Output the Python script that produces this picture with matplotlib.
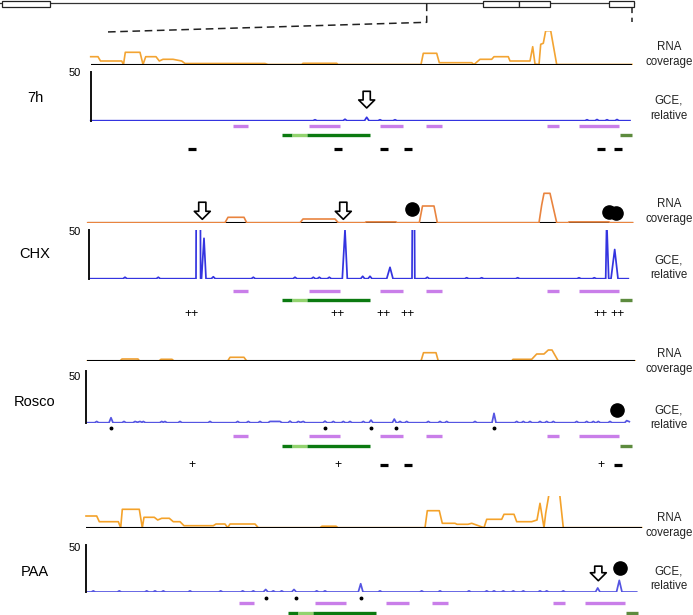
import matplotlib
matplotlib.use("Agg")
import matplotlib.pyplot as plt
from matplotlib.patches import Rectangle

W, H = 693, 615
plt.rcParams["font.family"] = ["Liberation Sans", "DejaVu Sans"]

# ---------------- gene overview (top) ----------------
exon_starts = [1.7, 483.3, 519, 609]
exon_ends = [50, 519, 550, 634]
gene_end = 634
zoom_left_x = [426.7, 426.7, 106]
zoom_left_y = [3.5, 22.3, 32]
zoom_right_x = [632, 632]
zoom_right_y = [7.3, 21.7]

# ---------------- shared feature tracks (zoomed region coords) ----------------
purple_starts = [142.5, 218.5, 289.5, 336, 456.5, 489]
purple_ends = [158, 249.5, 313, 352, 469, 528.5]
green_starts = [191.5, 201.5, 217, 530]
green_ends = [201.5, 217, 280, 542]
green_kinds = ["dark", "light", "dark", "olive"]
sign_pos = [101.5, 247.5, 294, 318, 510.5, 528]
signs_7h = ["-", "-", "-", "-", "-", "-"]
signs_chx = ["++", "++", "++", "++", "++", "++"]
signs_rosco = ["+", "+", "-", "-", "+", "-"]

# ---------------- RNA coverage ----------------
rna_7h = [(0.7, 7.8), (8, 7.8), (10.5, 3.5), (31.7, 3.5), (33.5, 0), (35.3, 12.2), (50, 12.2), (53, 0),
          (55.7, 7.8), (66, 7.8), (69.3, 3.5), (73, 5.2), (83, 5.2), (91.7, 3.5), (95, 1), (175, 1),
          (178, 0), (211.7, 0), (213, 1.2), (246.7, 1.2), (248, 0), (331, 0), (333.3, 11.2),
          (346.7, 11.2), (349.3, 1.8), (381.7, 1.8), (384, 0), (390, 5.2), (401.7, 5.2), (404, 7.8),
          (418.3, 7.8), (420, 3.5), (440, 3.5), (442.7, 17.8), (445, 0.5), (449, 0), (450.7, 20.2),
          (453.3, 21.2), (455.7, 33.8), (460.7, 33.8), (466.7, 0), (542, 0)]
rna_chx = [(-2.3, 0), (135, 0), (138, 5.4), (154, 5.4), (156.7, 0), (210, 0), (213, 3.7), (245, 3.7),
           (248.3, 0), (275, 0), (276, 0.8), (306, 0.8), (307, 0), (329.3, 0), (332.5, 16.7),
           (344, 16.7), (347.3, 0), (449, 0), (451.7, 17.7), (454, 29.4), (460, 29.4), (466.7, 0),
           (478, 0), (479, 0.8), (519, 0.8), (520, 0), (542.7, 0)]
rna_rosco = [(-2.7, 0), (30, 0), (32, 2), (48, 2), (49.5, 0), (69, 0), (71, 1.7), (82, 1.7), (84, 0),
             (137.7, 0), (140, 3.7), (154, 3.7), (156.7, 0), (331, 0), (333.5, 8.3), (346, 8.3),
             (348.3, 0), (421.7, 0), (423, 1.7), (441.7, 1.7), (446.7, 7), (454, 7), (458.3, 11),
             (462, 11), (468.3, 0), (545, 0)]
rna_paa = [(-10, 11.7), (0.7, 11.7), (3.3, 6), (22.3, 6), (24.7, 0), (26.3, 18.4), (43.3, 18.4),
           (46.3, 0), (48, 10.4), (58.3, 10.4), (61.7, 7.7), (65.7, 9.4), (73.3, 9.4), (77.3, 6),
           (84, 6), (88, 2), (117.3, 2), (120, 3.7), (129, 3.7), (131.7, 0), (134, 3.7), (159, 3.7),
           (162.3, 0), (224, 0), (226, 1.5), (240, 1.5), (242, 0), (329, 0), (331.3, 17), (343.3, 17),
           (346.3, 4.4), (359, 4.4), (361, 3.4), (372, 3.4), (375.7, 4.4), (388, 0), (390.7, 8.4),
           (405.7, 8.4), (408, 13.4), (418, 13.4), (420.7, 6), (435.7, 6), (441, 7.7), (444, 24.4),
           (448, 0), (449.7, 14.4), (452.3, 29.4), (454, 40), (463, 40), (467.3, 0), (545.7, 0)]

# ---------------- GCE, relative (0-50) ----------------
gce_7h = [(0.7, 0), (223, 0), (225, 1), (227, 0), (253, 0), (255, 1.5), (257, 0), (274.5, 0),
          (276.7, 3.5), (279, 0), (288, 0), (290, 1), (292, 0), (303, 0), (305, 1), (307, 0),
          (495, 0), (497, 1), (499, 0), (505, 0), (507, 1.2), (509, 0), (515, 0), (517, 1),
          (519, 0), (525, 0), (527, 1.2), (529, 0), (540, 0)]
gce_chx = [(-0.7, 0), (33, 0), (35, 1.5), (37, 0), (66.3, 0), (68.3, 1.5), (70.3, 0), (106, 0),
           (106.6, 200), (110, 200), (110.6, 0), (111.5, 0), (114, 41.5), (116, 0), (121.3, 0),
           (123.3, 2), (125.3, 0), (161.3, 0), (163.3, 1.5), (165.3, 0), (203, 0), (205, 1.5),
           (207, 0), (221.3, 0), (223.3, 1.5), (225.3, 0), (227.3, 0), (229.3, 1.5), (231.3, 0),
           (237.3, 0), (239.3, 1.5), (241.3, 0), (252.3, 0), (255, 50), (257.3, 0), (270.7, 0),
           (272.7, 2.5), (274.7, 0), (278, 0), (280, 2.5), (282, 0), (296.7, 0), (300, 11.7),
           (303, 0), (322, 0), (323, 200), (323.8, 200), (324.8, 0), (335.3, 0), (337.3, 1.5),
           (339.3, 0), (374.7, 0), (376.7, 1), (378.7, 0), (389.7, 0), (391.7, 1), (393.7, 0),
           (425.7, 0), (427.7, 1), (429.7, 0), (487, 0), (489, 1), (491, 0), (502.3, 0),
           (504.3, 1), (506.3, 0), (515.7, 0), (516.7, 60), (518.7, 0), (521, 0), (524.7, 30),
           (528, 0), (538.3, 0)]
gce_rosco = [(-4, 0), (4.7, 0), (6.7, 1.2), (8.7, 0), (19, 0), (21, 4.8), (23, 0), (32, 0), (34, 1.2),
             (36, 0), (43, 0), (45, 1.2), (47.5, 0.4), (50, 1.2), (52, 0.4), (53.3, 1.2), (55.5, 0),
             (69.7, 0), (71.7, 1.2), (73.3, 0.4), (75, 1.2), (77, 0), (88, 0), (90, 1.2), (92, 0),
             (118, 0), (120, 1.2), (122, 0), (145.7, 0), (147.7, 1.2), (149.7, 0), (156.3, 0),
             (158.3, 1.2), (160.3, 0), (168, 0), (170, 1.2), (172, 0), (178, 0), (180, 1.2),
             (190, 1.2), (192, 0), (198, 0), (200, 1.5), (202, 0), (206.3, 0), (208.3, 1.2),
             (210.5, 0.3), (213.3, 1.2), (215.3, 0), (233, 0), (235, 1.5), (237, 0), (241.3, 0),
             (243.3, 1.2), (245.3, 0), (251.3, 0), (253.3, 1.2), (255.3, 0), (258, 0), (260, 1.2),
             (262, 0), (271.3, 0), (273.3, 1.2), (275.3, 0), (279, 0), (281, 2.5), (283, 0),
             (302.3, 0), (304.3, 3.5), (306.3, 0), (308, 0), (310, 1.2), (312, 0), (314.7, 0),
             (316.7, 1.2), (318.7, 0), (336.3, 0), (338.3, 1.2), (340.3, 0), (348, 0), (350, 1.2),
             (352, 0), (354.7, 0), (356.7, 1.2), (358.7, 0), (383, 0), (385, 1.2), (387, 0),
             (402, 0), (404, 9), (406, 0), (424.7, 0), (426.7, 1.2), (428.7, 0), (431.3, 0),
             (433.3, 1.2), (435.3, 0), (438, 0), (440, 1.2), (442, 0), (448, 0), (450, 1.2),
             (452, 0), (454.7, 0), (456.7, 1.2), (458.7, 0), (461.3, 0), (463.3, 1.2), (465.3, 0),
             (484.7, 0), (486.7, 1.2), (488.7, 0), (494.7, 0), (496.7, 1.2), (498.7, 0),
             (501.3, 0), (503.3, 1.2), (505.3, 0), (506.3, 0), (508.3, 1.2), (510.3, 0), (518, 0),
             (520, 1.2), (522, 0), (534.7, 0), (536.7, 2), (539.3, 1)]
gce_paa = [(-10, 0), (-4.7, 0), (-2.7, 1.2), (-0.7, 0), (21.3, 0), (23.3, 1.2), (25.3, 0), (48.7, 0),
           (50.7, 1.2), (52.7, 0), (57, 0), (59, 1.2), (61, 0), (65.3, 0), (67.3, 1.2), (69.3, 0),
           (92, 0), (94, 1.2), (96, 0), (122.7, 0), (124.7, 1.2), (126.7, 0), (144.7, 0),
           (146.7, 1.2), (148.7, 0), (155.3, 0), (157.3, 1.2), (159.3, 0), (167.3, 0), (169.7, 2.7),
           (172, 0), (175.3, 0), (177.3, 1.2), (179.3, 0), (183.7, 0), (185.7, 1.2), (187.7, 0),
           (195.7, 0), (198, 2.7), (200.3, 0), (218.7, 0), (220.7, 1.2), (222.7, 0), (227, 0),
           (229, 1.2), (231, 0), (262.3, 0), (264.7, 8.8), (267, 0), (282, 0), (284, 1.2), (286, 0),
           (323.7, 0), (325.7, 1.2), (327.7, 0), (342, 0), (344, 1.2), (346, 0), (371, 0),
           (373, 1.2), (375, 0), (388.7, 0), (390.7, 1.2), (392.7, 0), (396, 0), (398, 1.2),
           (400, 0), (405.3, 0), (407.3, 1.2), (409.3, 0), (415.3, 0), (417.3, 1.2), (419.3, 0),
           (425.3, 0), (427.3, 1.2), (429.3, 0), (442, 0), (444, 1.2), (446, 0), (448.7, 0),
           (450.7, 1.2), (452.7, 0), (465.3, 0), (467.3, 1.2), (469.3, 0), (499.5, 0), (501.7, 4.3),
           (504, 0), (520.5, 0), (523.3, 12.4), (526, 0), (540.7, 0)]

# markers on GCE tracks: arrows (x, tip, tail), circles (x, y), dots (x)
arrows_7h = [(276.7, 13, 30)]
arrows_chx = [(112.3, 61, 78.5), (253.3, 61, 78.5)]
arrows_paa = [(502.3, 12, 27.5)]
circles_chx = [(322.3, 71.6), (519.3, 68.8), (526, 67.2)]
circles_rosco = [(527.3, 12.2)]
circles_paa = [(524, 25.2)]
dots_rosco = [21, 235, 281, 305.7, 404]
dots_paa = [169.7, 199.7, 265]

conditions = ["7h", "CHX", "Rosco", "PAA"]

# layout, in pixels from the top-left of the figure
layout = {
    "7h": dict(x0=90, rna=(30.5, 64.5), gce=(71.7, 120.7), dots=None, purple=125.7, green=135,
               signs=149, name_y=98, rna_lbl=54.2, gce_lbl=108.3, lbl50=72.7,
               orange="#f3a432", orange_top=False, blue="#3434e0"),
    "CHX": dict(x0=90, rna=(188.7, 222.7), gce=(230, 278.7), dots=None, purple=290.7, green=300,
                signs=314.3, name_y=254, rna_lbl=211.7, gce_lbl=267.5, lbl50=231.7,
                orange="#e9843f", orange_top=True, blue="#3434e0"),
    "Rosco": dict(x0=90, rna=(327, 361), gce=(370.7, 422.7), dots=428.3, purple=436, green=445.7,
                  signs=465, name_y=401.7, rna_lbl=361.8, gce_lbl=418, lbl50=376.7,
                  orange="#f0a030", orange_top=False, blue="#5555e2"),
    "PAA": dict(x0=96, rna=(495.7, 527.7), gce=(545, 592), dots=598.3, purple=603.3, green=613.3,
                signs=None, name_y=571.7, rna_lbl=525.5, gce_lbl=579, lbl50=548.3,
                orange="#f4a22a", orange_top=False, blue="#5555e2"),
}

data = {
    "7h": dict(rna=rna_7h, gce=gce_7h, signs=signs_7h, arrows=arrows_7h, circles=[], dots=[]),
    "CHX": dict(rna=rna_chx, gce=gce_chx, signs=signs_chx, arrows=arrows_chx, circles=circles_chx, dots=[]),
    "Rosco": dict(rna=rna_rosco, gce=gce_rosco, signs=signs_rosco, arrows=[], circles=circles_rosco,
                  dots=dots_rosco),
    "PAA": dict(rna=rna_paa, gce=gce_paa, signs=[], arrows=arrows_paa, circles=circles_paa, dots=dots_paa),
}

PURPLE = "#c97ee9"
GREENS = {"dark": "#0b7a10", "light": "#93d36f", "olive": "#5d8b3e"}
XMIN, XMAX = -14, 556

fig = plt.figure(figsize=(W / 100, H / 100), dpi=100)


def px_axes(left, top, width, height):
    ax = fig.add_axes([left / W, 1 - (top + height) / H, width / W, height / H])
    ax.patch.set_alpha(0)
    return ax


# gene overview
ax = px_axes(0, 0, W, 36)
ax.set_xlim(0, W)
ax.set_ylim(36, 0)
ax.axis("off")
ax.plot([0, gene_end], [3.4, 3.4], color="#333333", lw=0.9)
for s, e in zip(exon_starts, exon_ends):
    ax.add_patch(Rectangle((s, 0.6), e - s, 6, fc="white", ec="#222222", lw=0.9, zorder=3))
ax.plot(zoom_left_x, zoom_left_y, color="#222222", lw=1.1, ls=(0, (5, 3)))
ax.plot(zoom_right_x, zoom_right_y, color="#222222", lw=1.1, ls=(0, (4, 3)))

for cond in conditions:
    lay = layout[cond]
    d = data[cond]
    x0 = lay["x0"]
    width = XMAX - XMIN

    # RNA coverage
    top, bottom = lay["rna"]
    ax = px_axes(x0 + XMIN, top, width, bottom - top)
    ax.set_xlim(XMIN, XMAX)
    ax.set_ylim(0, bottom - top)
    ax.axis("off")
    rx = [p[0] for p in d["rna"]]
    ry = [p[1] for p in d["rna"]]
    ax.plot([rx[0], rx[-1]], [0, 0], color="black", lw=1.5, zorder=3 if not lay["orange_top"] else 1,
            solid_capstyle="butt")
    ax.plot(rx, ry, color=lay["orange"], lw=1.2, zorder=2)

    # GCE
    top, bottom = lay["gce"]
    ax = px_axes(x0 + XMIN, top, width, bottom - top)
    ax.set_xlim(XMIN, XMAX)
    ax.set_ylim(0, 50)
    gx = [p[0] for p in d["gce"]]
    gy = [p[1] for p in d["gce"]]
    ax.plot(gx, gy, color=lay["blue"], lw=1.25, zorder=2)
    for side in ["top", "right", "bottom"]:
        ax.spines[side].set_visible(False)
    ax.spines["left"].set_position(("data", gx[0]))
    ax.spines["left"].set_bounds(0, 50)
    ax.spines["left"].set_linewidth(1.4)
    ax.spines["left"].set_color("#111111")
    ax.set_xticks([])
    ax.set_yticks([])
    for x, tip, tail in d["arrows"]:
        ax.annotate("", xy=(x, tip), xytext=(x, tail), annotation_clip=False,
                    arrowprops=dict(arrowstyle="simple,head_length=0.5,head_width=1.0,tail_width=0.45",
                                    mutation_scale=11.5, fc="white", ec="black", lw=1.2,
                                    shrinkA=0, shrinkB=0))
    if d["circles"]:
        ax.plot([c[0] for c in d["circles"]], [c[1] for c in d["circles"]], "o", ms=9.5,
                color="black", clip_on=False, zorder=5)

    # feature rows below the GCE track
    ann_top = bottom
    ann_bottom = bottom + 50
    ax = px_axes(x0 + XMIN, ann_top, width, ann_bottom - ann_top)
    ax.set_xlim(XMIN, XMAX)
    ax.set_ylim(ann_bottom, ann_top)
    ax.axis("off")
    if d["dots"]:
        ax.plot(d["dots"], [lay["dots"]] * len(d["dots"]), "o", ms=1.8, color="black", clip_on=False)
    ax.hlines([lay["purple"]] * len(purple_starts), purple_starts, purple_ends, color=PURPLE, lw=2.4)
    for s, e, k in zip(green_starts, green_ends, green_kinds):
        ax.plot([s, e], [lay["green"], lay["green"]], color=GREENS[k], lw=2.4, solid_capstyle="butt",
                clip_on=False)
    for x, sg in zip(sign_pos, d["signs"]):
        if sg == "-":
            ax.plot([x], [lay["signs"]], marker="_", ms=6, mew=2.3, color="black")
        else:
            ax.text(x, lay["signs"], sg, ha="center", va="center", fontsize=8.8, color="black")

    # labels
    fig.text(35 / W, 1 - lay["name_y"] / H, cond, ha="center", va="center", fontsize=10.5)
    fig.text(80.5 / W, 1 - lay["lbl50"] / H, "50", ha="right", va="center", fontsize=8)
    fig.text(669 / W, 1 - lay["rna_lbl"] / H, "RNA\ncoverage", ha="center", va="center",
             fontsize=8.3, linespacing=1.3, color="#222222")
    fig.text(669 / W, 1 - lay["gce_lbl"] / H, "GCE,\nrelative", ha="center", va="center",
             fontsize=8.3, linespacing=1.3, color="#222222")

fig.savefig("out.png", dpi=100)
